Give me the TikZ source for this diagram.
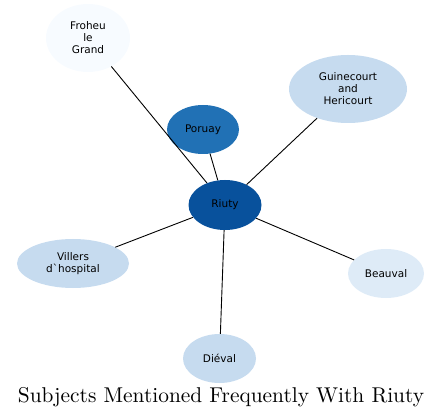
\documentclass[tikz,border=0pt]{standalone}
\usepackage{fontspec}
\newfontfamily\nodefont{DejaVu Sans}
\newfontfamily\titlefont{lmroman10-regular}[Extension=.otf]
\usetikzlibrary{shapes.geometric}
\definecolor{blueA}{HTML}{F7FBFF}
\definecolor{blueB}{HTML}{DEEBF7}
\definecolor{blueC}{HTML}{C6DBEF}
\definecolor{blueD}{HTML}{2171B5}
\definecolor{blueE}{HTML}{08519C}
\begin{document}
\begin{tikzpicture}[x=1pt,y=-1pt,
  subj/.style={ellipse, inner sep=0pt, align=center,
    font=\nodefont\fontsize{10.5}{12}\selectfont},
  link/.style={line width=0.9pt}]
\useasboundingbox (0,0) rectangle (441,419);

\node [subj, fill=blueE, minimum width=73, minimum height=50] (riuty) at (225,205) {Riuty};
\node [subj, fill=blueA, minimum width=84, minimum height=68] (froheu) at (88,38) {Froheu\\le\\Grand};
\node [subj, fill=blueC, minimum width=118, minimum height=68] (guine) at (348,89) {Guinecourt\\and\\Hericourt};
\node [subj, fill=blueD, minimum width=72, minimum height=49] (poruay) at (203,129.5) {Poruay};
\node [subj, fill=blueC, minimum width=112, minimum height=49] (villers) at (73,263.5) {Villers\\d\symbol{96}hospital};
\node [subj, fill=blueB, minimum width=76, minimum height=49] (beauval) at (386,273.5) {Beauval};
\node [subj, fill=blueC, minimum width=73, minimum height=49] (dieval) at (219.5,358.5) {Diéval};

\draw [link] (riuty) -- (froheu);
\draw [link] (riuty) -- (guine);
\draw [link] (riuty) -- (poruay);
\draw [link] (riuty) -- (villers);
\draw [link] (riuty) -- (beauval);
\draw [link] (riuty) -- (dieval);

\node [anchor=base, font=\titlefont\fontsize{21.4}{26}\selectfont] (title) at (221,402) {Subjects Mentioned Frequently With Riuty};
\end{tikzpicture}
\end{document}
